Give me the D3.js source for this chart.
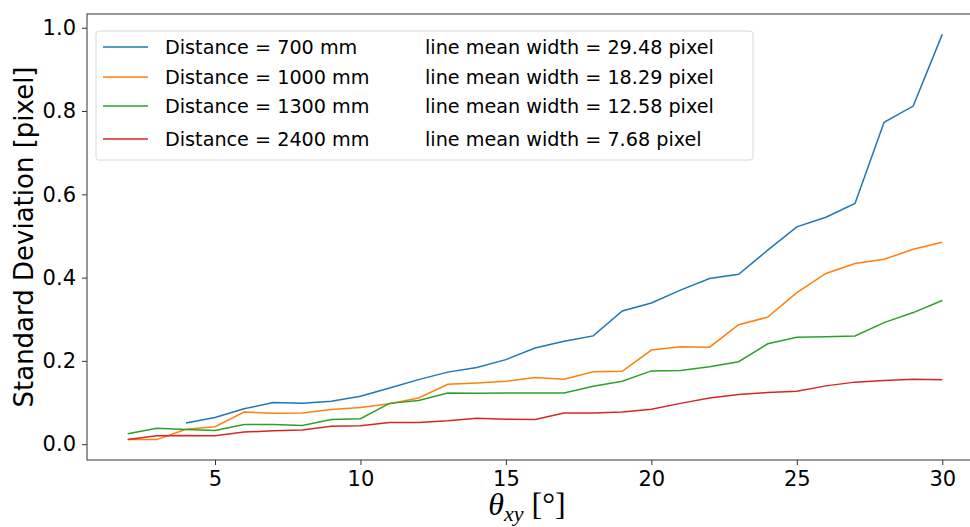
<!DOCTYPE html>
<html>
<head>
<meta charset="utf-8">
<script src="https://cdn.jsdelivr.net/npm/d3@7"></script>
<style>
  body { margin: 0; background: #fff; }
  svg { display: block; }
  .tick text { font-family: "DejaVu Sans", sans-serif; font-size: 21px; fill: #000; }
</style>
</head>
<body>
<svg width="970" height="527"></svg>
<script>
// angles theta_xy in degrees
var angles = [2, 3, 4, 5, 6, 7, 8, 9, 10, 11, 12, 13, 14, 15, 16, 17, 18, 19, 20, 21, 22, 23, 24, 25, 26, 27, 28, 29, 30];

// standard deviation per distance (null = no value)
var sd700 = [null, null, 0.051, 0.064, 0.085, 0.100, 0.098, 0.103, 0.115, 0.135, 0.155, 0.173, 0.184, 0.203, 0.231, 0.247, 0.260, 0.320, 0.339, 0.370, 0.398, 0.408, 0.466, 0.522, 0.545, 0.578, 0.773, 0.812, 0.984];
var sd1000 = [0.011, 0.011, 0.036, 0.042, 0.077, 0.074, 0.075, 0.083, 0.088, 0.097, 0.111, 0.144, 0.147, 0.151, 0.160, 0.156, 0.174, 0.175, 0.226, 0.234, 0.233, 0.287, 0.305, 0.364, 0.410, 0.434, 0.444, 0.468, 0.485];
var sd1300 = [0.025, 0.038, 0.035, 0.033, 0.047, 0.047, 0.045, 0.059, 0.061, 0.098, 0.105, 0.123, 0.122, 0.123, 0.123, 0.123, 0.139, 0.151, 0.176, 0.177, 0.186, 0.198, 0.241, 0.257, 0.258, 0.260, 0.292, 0.316, 0.345];
var sd2400 = [0.011, 0.020, 0.021, 0.020, 0.029, 0.032, 0.034, 0.043, 0.044, 0.052, 0.052, 0.056, 0.062, 0.060, 0.059, 0.075, 0.075, 0.077, 0.084, 0.098, 0.111, 0.119, 0.124, 0.127, 0.140, 0.149, 0.153, 0.156, 0.155];

var seriesNames = ["Distance = 700 mm", "Distance = 1000 mm", "Distance = 1300 mm", "Distance = 2400 mm"];
var widthLabels = ["line mean width = 29.48 pixel", "line mean width = 18.29 pixel", "line mean width = 12.58 pixel", "line mean width = 7.68 pixel"];
var colors = ["#1f77b4", "#ff7f0e", "#2ca02c", "#d62728"];
var xTicks = [5, 10, 15, 20, 25, 30];
var yTicks = [0.0, 0.2, 0.4, 0.6, 0.8, 1.0];

var allSeries = [sd700, sd1000, sd1300, sd2400];

var svg = d3.select("svg");
var plotLeft = 87, plotTop = 14, plotRight = 983, plotBottom = 460;

var x = d3.scaleLinear().domain([0.6, 31.4]).range([plotLeft, plotRight]);
var y = d3.scaleLinear().domain([-0.038, 1.033]).range([plotBottom, plotTop]);

// axes
var xAxis = svg.append("g")
  .attr("transform", "translate(0," + plotBottom + ")")
  .call(d3.axisBottom(x).tickValues(xTicks).tickSize(5).tickPadding(6).tickFormat(d3.format("d")));
var yAxis = svg.append("g")
  .attr("transform", "translate(" + plotLeft + ",0)")
  .call(d3.axisLeft(y).tickValues(yTicks).tickSize(5).tickPadding(6).tickFormat(d3.format(".1f")));
xAxis.select(".domain").remove();
yAxis.select(".domain").remove();
svg.selectAll(".tick line").attr("stroke", "#333");

// frame
svg.append("rect")
  .attr("x", plotLeft).attr("y", plotTop)
  .attr("width", plotRight - plotLeft).attr("height", plotBottom - plotTop)
  .attr("fill", "none").attr("stroke", "#333").attr("stroke-width", 1);

// lines
var line = d3.line()
  .defined(function (d) { return d[1] != null; })
  .x(function (d) { return x(d[0]); })
  .y(function (d) { return y(d[1]); });

allSeries.forEach(function (s, i) {
  svg.append("path")
    .datum(angles.map(function (a, j) { return [a, s[j]]; }))
    .attr("fill", "none")
    .attr("stroke", colors[i])
    .attr("stroke-width", 1.5)
    .attr("d", line);
});

// legend
var legend = svg.append("g");
legend.append("rect")
  .attr("x", 96).attr("y", 31)
  .attr("width", 657).attr("height", 129)
  .attr("rx", 3)
  .attr("fill", "#fff").attr("fill-opacity", 0.8)
  .attr("stroke", "#d8d8d8");
var rowY = [47, 77, 106, 139];
seriesNames.forEach(function (name, i) {
  legend.append("line")
    .attr("x1", 103).attr("x2", 148)
    .attr("y1", rowY[i]).attr("y2", rowY[i])
    .attr("stroke", colors[i]).attr("stroke-width", 1.5);
  legend.append("text")
    .attr("x", 165).attr("y", rowY[i])
    .attr("dy", "0.35em")
    .style("font-family", "DejaVu Sans, sans-serif")
    .style("font-size", "19.2px")
    .text(name);
  legend.append("text")
    .attr("x", 425).attr("y", rowY[i])
    .attr("dy", "0.35em")
    .style("font-family", "DejaVu Sans, sans-serif")
    .style("font-size", "19.2px")
    .text(widthLabels[i]);
});

// axis titles
svg.append("text")
  .attr("transform", "translate(33," + ((plotTop + plotBottom) / 2) + ") rotate(-90)")
  .attr("text-anchor", "middle")
  .style("font-family", "DejaVu Sans, sans-serif")
  .style("font-size", "26px")
  .text("Standard Deviation [pixel]");

var xt = svg.append("text")
  .attr("x", 527).attr("y", 515)
  .attr("text-anchor", "middle")
  .style("font-family", "Liberation Serif, serif")
  .style("font-size", "32px");
xt.append("tspan").style("font-style", "italic").text("θ");
xt.append("tspan").style("font-style", "italic").style("font-size", "22px").attr("dy", 6).text("xy");
xt.append("tspan").attr("dy", -6).text(" [°]");
</script>
</body>
</html>
